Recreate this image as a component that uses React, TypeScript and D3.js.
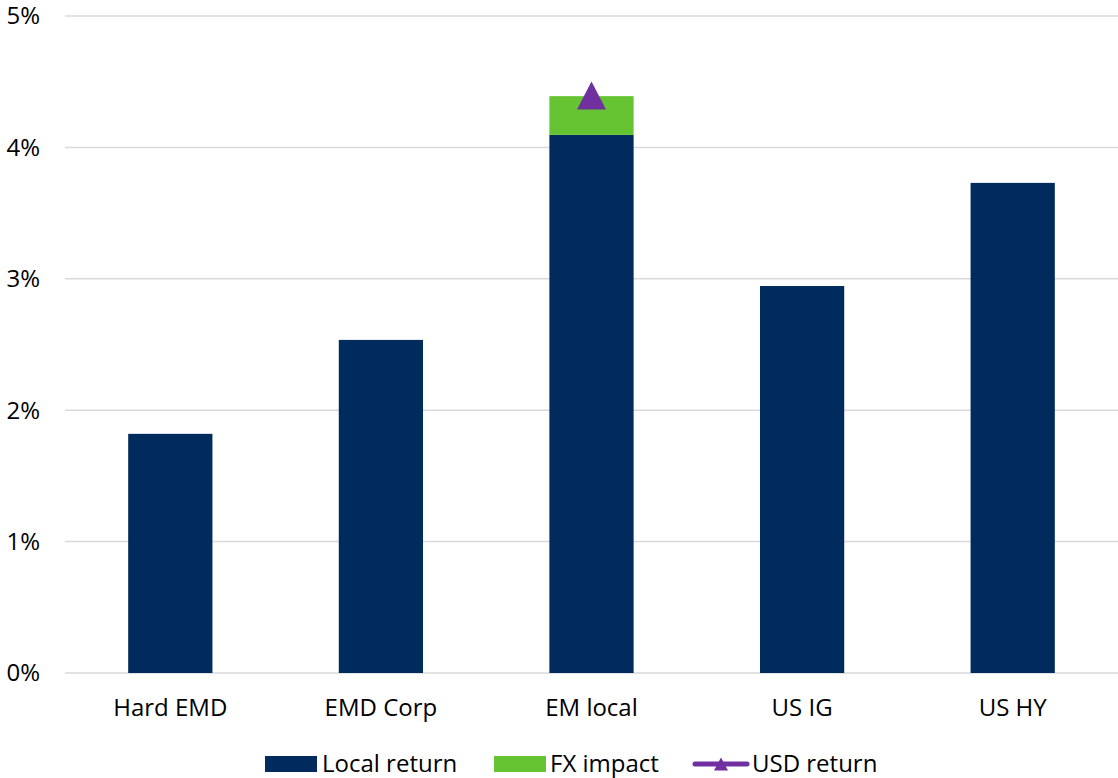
import React from "react";
import * as d3 from "d3";

const categories = ["Hard EMD", "EMD Corp", "EM local", "US IG", "US HY"];
const localReturn = [1.82, 2.535, 4.095, 2.945, 3.73];
const fxImpact = [0, 0, 0.295, 0, 0];
const usdReturn: (number | null)[] = [null, null, 4.395, null, null];
const yTicks = [0, 1, 2, 3, 4, 5];

const W = 1118;
const H = 778;
const margin = { left: 65, right: 0, top: 16, bottom: 105 };
const NAVY = "#002b5c";
const GREEN = "#66c433";
const PURPLE = "#7030a0";
const FONT = "'Open Sans', 'Noto Sans', sans-serif";
const FS = 24;

function triPath(w: number, h: number) {
  const p = d3.path();
  p.moveTo(0, -h / 2);
  p.lineTo(w / 2, h / 2);
  p.lineTo(-w / 2, h / 2);
  p.closePath();
  return p.toString();
}

export default function App() {
  const x = d3
    .scaleBand<string>()
    .domain(categories)
    .range([margin.left, W - margin.right])
    .paddingInner(0.6)
    .paddingOuter(0.3);
  const y = d3.scaleLinear().domain([0, 5]).range([H - margin.bottom, margin.top]);

  const legendY = 764;
  return (
    <svg width={W} height={H} style={{ position: "absolute", left: 0, top: 0, background: "#fff" }} fontFamily={FONT}>
      {yTicks.map((t) => (
        <g key={t}>
          <line x1={margin.left} x2={W} y1={y(t)} y2={y(t)} stroke="#d9d9d9" strokeWidth={1.5} />
          <text x={40} y={y(t)} dy="0.35em" textAnchor="end" fontSize={FS} fill="#000">
            {t}%
          </text>
        </g>
      ))}
      {categories.map((c, i) => (
        <g key={c}>
          <rect x={x(c)} width={x.bandwidth()} y={y(localReturn[i])} height={y(0) - y(localReturn[i])} fill={NAVY} />
          {fxImpact[i] > 0 && (
            <rect
              x={x(c)}
              width={x.bandwidth()}
              y={y(localReturn[i] + fxImpact[i])}
              height={y(localReturn[i]) - y(localReturn[i] + fxImpact[i])}
              fill={GREEN}
            />
          )}
          {usdReturn[i] != null && (
            <path d={triPath(29, 28)} transform={`translate(${x(c)! + x.bandwidth() / 2},${y(usdReturn[i] as number)})`} fill={PURPLE} />
          )}
          <text x={x(c)! + x.bandwidth() / 2} y={708} dy="0.35em" textAnchor="middle" fontSize={FS} fill="#000">
            {c}
          </text>
        </g>
      ))}
      <g fontSize={FS} fill="#000">
        <rect x={265} y={legendY - 8} width={52} height={16} fill={NAVY} />
        <text x={322} y={legendY} dy="0.35em">Local return</text>
        <rect x={494} y={legendY - 8} width={52} height={16} fill={GREEN} />
        <text x={550} y={legendY} dy="0.35em">FX impact</text>
        <line x1={695} x2={747} y1={legendY} y2={legendY} stroke={PURPLE} strokeWidth={5} strokeLinecap="round" />
        <path d={triPath(14, 13)} transform={`translate(721,${legendY})`} fill={PURPLE} />
        <text x={752} y={legendY} dy="0.35em">USD return</text>
      </g>
    </svg>
  );
}
